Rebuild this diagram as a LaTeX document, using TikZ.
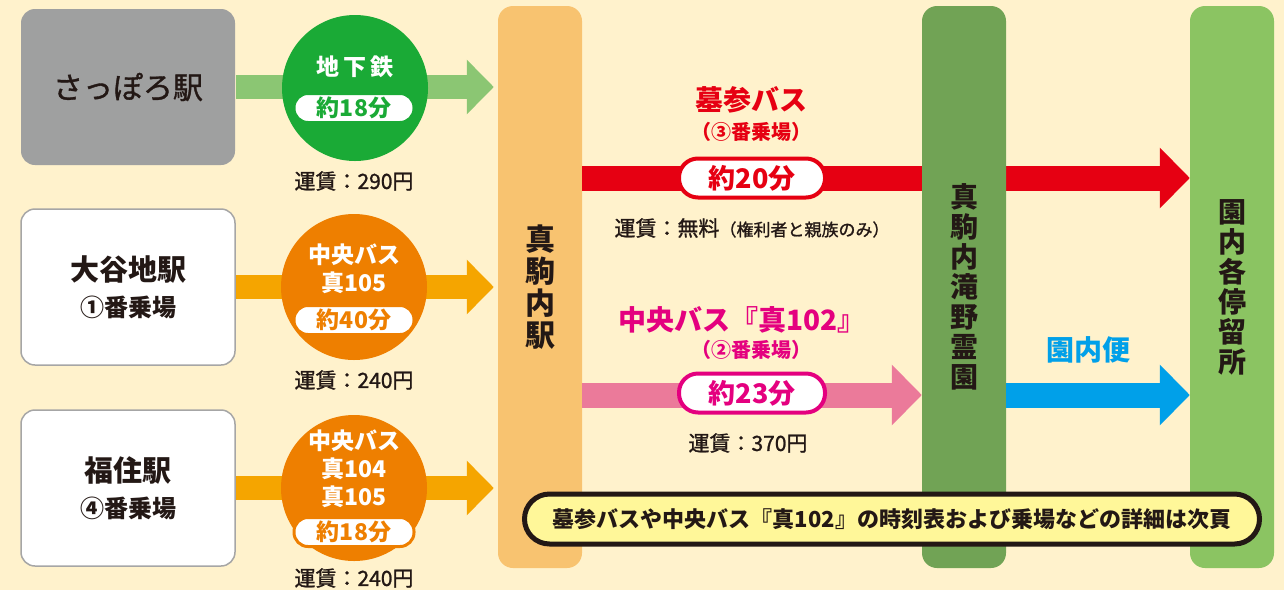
\documentclass[tikz,border=0pt]{standalone}
\usepackage{fontspec}
\setmainfont{Noto Sans CJK JP}
\newfontfamily\medfont[FakeBold=1.2]{Noto Sans CJK JP}
\usetikzlibrary{arrows.meta,positioning}

\definecolor{bg}{HTML}{FFF2CC}
\definecolor{ink}{HTML}{231815}
\definecolor{grayst}{HTML}{9FA0A0}
\definecolor{subgreen}{HTML}{1AAA36}
\definecolor{subarrow}{HTML}{8BC673}
\definecolor{busorange}{HTML}{EE7F00}
\definecolor{busarrow}{HTML}{F5A500}
\definecolor{ekicol}{HTML}{F8C370}
\definecolor{reiencol}{HTML}{71A355}
\definecolor{teiryucol}{HTML}{8BC462}
\definecolor{bosanred}{HTML}{E60012}
\definecolor{pinkarrow}{HTML}{EB7A9A}
\definecolor{magentabus}{HTML}{E4007F}
\definecolor{enblue}{HTML}{00A0E9}
\definecolor{memofill}{HTML}{FFF799}

\begin{document}
\begin{tikzpicture}[x=1pt, y=-1pt,
    station/.style={draw=gray!70, line width=1.5pt, fill=white, rounded corners=14pt, minimum width=214pt, minimum height=156pt, align=center, text=ink},
    column/.style={rounded corners=15pt, minimum width=84pt, minimum height=562pt, inner sep=0pt, align=center, text=ink},
    disc/.style={circle, minimum size=146pt, inner sep=0pt},
    smallarrow/.style={line width=24pt, -{Triangle[length=27pt,width=53pt]}, shorten >=4pt},
    bigarrow/.style={line width=25pt, -{Triangle[length=30pt,width=59pt]}},
    pill/.style={fill=white, draw=#1, text=#1, line width=3pt, rounded corners=14pt, minimum width=120pt, minimum height=29pt, inner sep=0pt, font=\fontsize{23}{26}\selectfont\bfseries},
    bigpill/.style={fill=white, draw=#1, text=#1, line width=4pt, rounded corners=19pt, minimum width=146pt, minimum height=39pt, inner sep=0pt, font=\fontsize{27}{30}\selectfont\bfseries},
    fare/.style={text=ink, inner sep=0pt, font=\fontsize{21}{24}\medfont},
    intext/.style={text=white, align=center, inner sep=0pt, font=\fontsize{23}{28}\selectfont\bfseries},
    title/.style={text=#1, inner sep=0pt, font=\fontsize{28}{32}\selectfont\bfseries},
    stop/.style={text=#1, inner sep=0pt, font=\fontsize{20}{24}\selectfont\bfseries},
    memo/.style={fill=memofill, draw=ink, line width=5pt, rounded corners=25pt, minimum width=735pt, minimum height=50pt, text=ink, font=\fontsize{22}{24}\selectfont\bfseries}]

    \fill[bg] (0,0) rectangle (1284,590);
    \useasboundingbox (0,0) rectangle (1284,590);

    \node[station, fill=grayst, draw=none, font=\fontsize{30}{33}\medfont] (sapporo) at (128,87) {さっぽろ駅};
    \node[station] (otani)    at (128,287) {{\fontsize{29}{38}\selectfont\bfseries 大谷地駅}\\[12pt]{\fontsize{24}{28}\selectfont\bfseries ①番乗場}};
    \node[station] (fukuzumi) at (128,488) {{\fontsize{29}{38}\selectfont\bfseries 福住駅}\\[12pt]{\fontsize{24}{28}\selectfont\bfseries ④番乗場}};

    \node[column, fill=ekicol, font=\fontsize{30}{32}\selectfont\bfseries]    (eki)    at (540,287)  {真\\駒\\内\\駅};
    \node[column, fill=teiryucol, font=\fontsize{28}{30}\selectfont\bfseries] (teiryu) at (1232,287) {園\\内\\各\\停\\留\\所};

    \coordinate (redline)  at (0,178);
    \coordinate (pinkline) at (0,395);

    \draw[smallarrow, subarrow] (sapporo)  -- (sapporo -| eki.west);
    \draw[smallarrow, busarrow] (otani)    -- (otani -| eki.west);
    \draw[smallarrow, busarrow] (fukuzumi) -- (fukuzumi -| eki.west);
    \draw[bigarrow, bosanred]   (eki.east |- redline) -- (teiryu.west |- redline);

    \node[column, fill=reiencol, font=\fontsize{28}{30}\selectfont\bfseries] (reien) at (964,287) {真\\駒\\内\\滝\\野\\霊\\園};

    \draw[bigarrow, pinkarrow] (eki.east |- pinkline)   -- (reien.west |- pinkline);
    \draw[bigarrow, enblue]    (reien.east |- pinkline) -- (teiryu.west |- pinkline);

    % left side: lines and times
    \node[disc, fill=subgreen] (subway) at (355,88) {};
    \node[intext] at (355,67) {地\hspace{4pt}下\hspace{4pt}鉄};
    \node[pill=subgreen] at (354,108) {約18分};
    \node[fare] at (354,181) {運賃：290円};

    \node[disc, fill=busorange] (bus105) at (354,287) {};
    \node[intext] at (354,269) {中央バス\\真105};
    \node[pill=busorange] at (354,320) {約40分};
    \node[fare] at (354,380) {運賃：240円};

    \node[disc, fill=busorange] (bus104) at (354,488) {};
    \node[intext] at (354,469) {中央バス\\真104\\真105};
    \node[pill=busorange] at (354,532) {約18分};
    \node[fare] at (354,578) {運賃：240円};

    % middle: cemetery bus and route 102
    \node[title=bosanred] at (751,100) {墓参バス};
    \node[stop=bosanred]  at (751,132) {（③番乗場）};
    \node[bigpill=bosanred] (min20) at (752,178) {約20分};
    \node[fare] at (752,228) {運賃：無料{\fontsize{17}{20}\selectfont（権利者と親族のみ）}};

    \node[title=magentabus] at (742,320) {中央バス『真102』};
    \node[stop=magentabus]  at (751,350) {（②番乗場）};
    \node[bigpill=magentabus] (min23) at (752,393) {約23分};
    \node[fare] at (748,443) {運賃：370円};

    \node[title=enblue] at (1088,350) {園内便};

    \node[memo] (info) at (892,519) {墓参バスや中央バス『真102』の時刻表および乗場などの詳細は次頁};
\end{tikzpicture}
\end{document}
